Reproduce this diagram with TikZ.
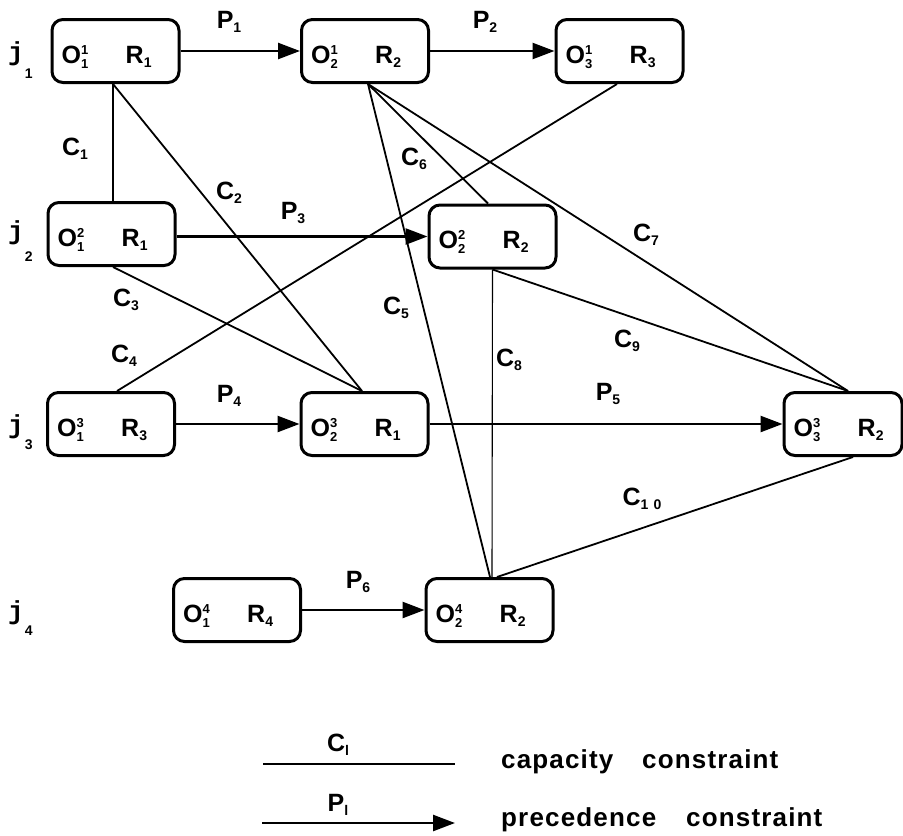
\documentclass[tikz,border=0pt]{standalone}
\usepackage{fontspec}
\setmainfont{Liberation Sans}
\newfontfamily\jfont{Liberation Mono}
\usetikzlibrary{arrows.meta,calc}
\newcommand\sbs[1]{\raisebox{-4pt}{\fontsize{14}{14}\selectfont #1}}
\newcommand\Oab[2]{O\rlap{\raisebox{9pt}{\fontsize{13}{13}\selectfont #1}}\raisebox{-5pt}{\fontsize{13}{13}\selectfont #2}}
\newcommand\opn[7]{%
  \node[opbox,minimum width=#7] (#1) at (#2,#3) {};
  \node[optext] (#1t) at ($(#1.west)+(11,12)$) {\makebox[64pt][l]{\Oab{#4}{#5}}R\sbs{#6}};}
\newcommand\jl[5]{%
  \node[jlab] (#1) at (#2,#3) {j\hspace{1pt}\raisebox{#5}{\rmfamily\fontsize{14}{14}\selectfont #4}};}
\begin{document}
\begin{tikzpicture}[x=1pt,y=-1pt,
  font=\fontsize{25}{25}\selectfont\bfseries,
  opbox/.style={draw,line width=3pt,rounded corners=11pt,minimum height=63pt,inner sep=0pt},
  optext/.style={inner sep=0pt,anchor=base west},
  prec/.style={line width=2.5pt,-{Triangle[length=22pt,width=16pt]}},
  capline/.style={line width=1.8pt},
  thincap/.style={line width=1.1pt},
  lab/.style={inner sep=0pt},
  legtext/.style={inner sep=0pt,anchor=base west,font=\fontsize{26}{26}\selectfont\bfseries\addfontfeature{LetterSpace=4.5}},
  jlab/.style={inner sep=0pt,anchor=base west,font=\fontsize{26}{26}\selectfont\bfseries\jfont}]
\useasboundingbox (0,0) rectangle (903,836);
% operation boxes
\opn{o11}{115.5}{51}{1}{1}{1}{127pt}
\opn{o21}{365}{51}{1}{2}{2}{127pt}
\opn{o31}{619.5}{51}{1}{3}{3}{127pt}
\opn{o12}{111.5}{234}{2}{1}{1}{127pt}
\opn{o22}{492.5}{236.5}{2}{2}{2}{127pt}
\opn{o13}{111}{424}{3}{1}{3}{127pt}
\opn{o23}{364.5}{424}{3}{2}{1}{127pt}
\opn{o33}{843}{424}{3}{3}{2}{118pt}
\opn{o14}{237}{610}{4}{1}{4}{127pt}
\opn{o24}{489.5}{610}{4}{2}{2}{127pt}
% job labels
\jl{j1}{8}{60}{1}{-18pt}
\jl{j2}{8}{239}{2}{-22pt}
\jl{j3}{8}{433}{3}{-16pt}
\jl{j4}{8}{619}{4}{-16pt}
% precedence constraints
\draw[prec] (o11.east) -- (o21.west);
\draw[prec] (o21.east) -- (o31.west);
\draw[prec] (o12.east |- o22.west) -- (o22.west);
\draw[prec] (o13.east) -- (o23.west);
\draw[prec] (o23.east) -- (o33.west);
\draw[prec] (o14.east) -- (o24.west);
% capacity constraints
\draw[thincap] ($(o11.south)+(-2.5,0)$) -- ($(o12.north)+(1.5,0)$);
\draw[capline] ($(o11.south)+(-2.5,0)$) -- ($(o23.north)+(-2.5,0)$);
\draw[capline] ($(o12.south)+(1.5,0)$) -- ($(o23.north)+(-2.5,0)$);
\draw[capline] ($(o13.north)+(6,0)$) -- ($(o31.south)+(-2.5,0)$);
\draw[capline] ($(o21.south)+(3,0)$) -- ($(o24.north)+(0.5,0)$);
\draw[capline] ($(o21.south)+(3,0)$) -- ($(o22.north)+(-4.5,0)$);
\draw[capline] ($(o21.south)+(3,0)$) -- ($(o33.north)+(5,0)$);
\draw[thincap] (o22.south) -- ($(o24.north)+(2.5,0)$);
\draw[capline] (o22.south) -- ($(o33.north)+(5,0)$);
\draw[capline] ($(o24.north)+(7.5,0)$) -- ($(o33.south)+(10,0)$);
% labels
\node[lab] (lp1) at (229,22) {P\sbs{1}};
\node[lab] (lp2) at (485,22) {P\sbs{2}};
\node[lab] (lp3) at (293,213) {P\sbs{3}};
\node[lab] (lp4) at (229,396) {P\sbs{4}};
\node[lab] (lp5) at (608,394) {P\sbs{5}};
\node[lab] (lp6) at (358,582) {P\sbs{6}};
\node[lab] (lc1) at (75,149) {C\sbs{1}};
\node[lab] (lc2) at (229,193) {C\sbs{2}};
\node[lab] (lc3) at (126,300) {C\sbs{3}};
\node[lab] (lc4) at (124,356) {C\sbs{4}};
\node[lab] (lc5) at (396,308) {C\sbs{5}};
\node[lab] (lc6) at (414,159) {C\sbs{6}};
\node[lab] (lc7) at (646,235) {C\sbs{7}};
\node[lab] (lc8) at (509,360) {C\sbs{8}};
\node[lab] (lc9) at (627,341) {C\sbs{9}};
\node[lab] (lc10) at (642,499) {C\sbs{1\hspace{5pt}0}};
% legend
\coordinate (la) at (263,764);
\coordinate (lb) at (455,764);
\draw[capline] (la) -- (lb);
\node[lab] (lcl) at (338,745) {C\sbs{l}};
\coordinate (lc) at (262,823);
\coordinate (ld) at (455,823);
\draw[prec] (lc) -- (ld);
\node[lab] (lpl) at (338,805) {P\sbs{l}};
\node[legtext] (t1) at (501,768) {capacity};
\node[legtext] (t2) at (642,768) {constraint};
\node[legtext] (t3) at (501,826) {precedence};
\node[legtext] (t4) at (686,826) {constraint};
\end{tikzpicture}
\end{document}
